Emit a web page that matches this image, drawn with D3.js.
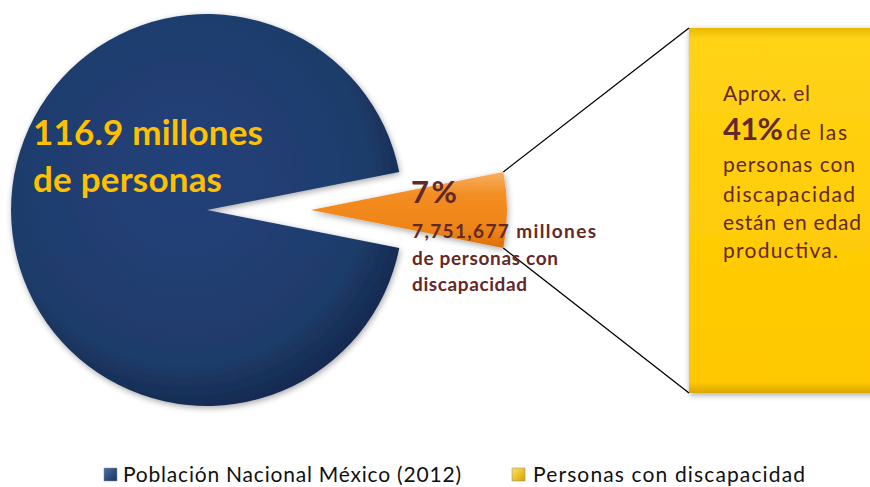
<!DOCTYPE html>
<html><head><meta charset="utf-8">
<script src="https://cdn.jsdelivr.net/npm/d3@7"></script>
<style>body{margin:0;background:#fff}svg{display:block}</style>
</head><body><svg id="c" width="870" height="487"></svg>
<script>
// ---- data ----
const categories = ["Población Nacional México (2012)", "Personas con discapacidad"];
const values = [116.9, 7.751677]; // millones de personas
const pieLabel = ["116.9 millones", "de personas"];
const slicePct = "7%";
const sliceLines = ["7,751,677 millones", "de personas con", "discapacidad"];
const boxIntro = "Aprox. el";
const boxPct = "41%";
const boxPctRest = "de las";
const boxLines = ["personas con", "discapacidad", "están en edad", "productiva."];

// ---- layout ----
const svg = d3.select("#c");
const cx = 207, cy = 210, R = 196, explode = 104;
const box = {x: 689, y: 28, w: 200, h: 365};
const maroon = "#632828";

const defs = svg.append("defs");
const rg = defs.append("radialGradient").attr("id","gBlue").attr("cx","45%").attr("cy","42%").attr("r","58%");
[[0,"#21407a"],[0.8,"#1f3d6b"],[1,"#152c52"]].forEach(s=>rg.append("stop").attr("offset",s[0]).attr("stop-color",s[1]));
const og = defs.append("linearGradient").attr("id","gOrange").attr("x1",0).attr("y1",0).attr("x2",0).attr("y2",1);
[[0,"#f7b062"],[0.3,"#f38d22"],[0.75,"#ef8416"],[1,"#d9700c"]].forEach(s=>og.append("stop").attr("offset",s[0]).attr("stop-color",s[1]));
const yg = defs.append("linearGradient").attr("id","gYellow").attr("x1",0).attr("y1",0).attr("x2",0).attr("y2",1);
[[0,"#e8b800"],[0.03,"#ffd319"],[0.5,"#ffcd08"],[0.97,"#ffc800"],[1,"#d9a800"]].forEach(s=>yg.append("stop").attr("offset",s[0]).attr("stop-color",s[1]));
const lb = defs.append("linearGradient").attr("id","lBlue").attr("x1",0).attr("y1",0).attr("x2",1).attr("y2",1);
[[0,"#4a6fa8"],[1,"#1a3260"]].forEach(s=>lb.append("stop").attr("offset",s[0]).attr("stop-color",s[1]));
const ly = defs.append("linearGradient").attr("id","lYellow").attr("x1",0).attr("y1",0).attr("x2",1).attr("y2",1);
[[0,"#ffe466"],[1,"#d9a000"]].forEach(s=>ly.append("stop").attr("offset",s[0]).attr("stop-color",s[1]));
const sh = defs.append("filter").attr("id","shadow").attr("x","-20%").attr("y","-20%").attr("width","140%").attr("height","140%");
sh.append("feGaussianBlur").attr("in","SourceAlpha").attr("stdDeviation",3);
sh.append("feOffset").attr("dx",1).attr("dy",2).attr("result","b");
sh.append("feComponentTransfer").append("feFuncA").attr("type","linear").attr("slope",0.35);
const mg = sh.append("feMerge"); mg.append("feMergeNode"); mg.append("feMergeNode").attr("in","SourceGraphic");

const color = d3.scaleOrdinal().domain(categories).range(["url(#gBlue)","url(#gOrange)"]);
const legendColor = d3.scaleOrdinal().domain(categories).range(["url(#lBlue)","url(#lYellow)"]);

const data = categories.map((c,i)=>({c, v: values[i]}));
const frac = values[1] / d3.sum(values);
const start = Math.PI/2 + frac*Math.PI;
const arcs = d3.pie().sort(null).value(d=>d.v).startAngle(start).endAngle(start + 2*Math.PI)(data);
const arc = d3.arc().innerRadius(0).outerRadius(R);

function offset(d){
  if (d.index === 0) return [0,0];
  const m = (d.startAngle + d.endAngle)/2;
  return [explode*Math.sin(m), -explode*Math.cos(m)];
}

// box
svg.append("rect").attr("x",box.x).attr("y",box.y).attr("width",box.w).attr("height",box.h)
  .attr("fill","url(#gYellow)").attr("filter","url(#shadow)");

// connector lines from orange slice corners to box corners
const o = arcs[1], off = offset(o);
const corner = a => [cx + off[0] + R*Math.sin(a), cy + off[1] - R*Math.cos(a)];
const c1 = corner(o.startAngle), c2 = corner(o.endAngle);
svg.append("line").attr("x1",c1[0]).attr("y1",c1[1]).attr("x2",box.x).attr("y2",box.y)
  .attr("stroke","#000").attr("stroke-width",1.3);
svg.append("line").attr("x1",c2[0]).attr("y1",c2[1]).attr("x2",box.x).attr("y2",box.y+box.h)
  .attr("stroke","#000").attr("stroke-width",1.3);

// slices
svg.append("g").attr("transform",`translate(${cx},${cy})`)
  .selectAll("path").data(arcs).join("path")
  .attr("transform", d=>`translate(${offset(d)})`)
  .attr("d", arc).attr("fill", d=>color(d.data.c)).attr("filter","url(#shadow)");

function txt(x,y,s,size,weight,fill,len){
  const t = svg.append("text").attr("x",x).attr("y",y).text(s)
    .attr("font-family","Lato, 'Open Sans', sans-serif").attr("font-size",size)
    .attr("font-weight",weight).attr("fill",fill);
  if (len) t.attr("textLength",len).attr("lengthAdjust","spacing");
  return t;
}

// pie label
txt(33,145,pieLabel[0],35,"bold","#ffc000",230);
txt(33,192,pieLabel[1],35,"bold","#ffc000",189);

// slice labels
txt(411,203,slicePct,31,"bold",maroon,46);
const sl = [[238,184],[265,146],[291,115]];
sliceLines.forEach((s,i)=>txt(412,sl[i][0],s,19,"bold",maroon,sl[i][1]));

// box text
txt(723,101,boxIntro,21,"normal",maroon,87);
txt(723,140,boxPct,31,"bold",maroon,60);
txt(786,140,boxPctRest,21,"normal",maroon,61);
const bl = [[172,132],[202,132],[230,138],[258,115]];
boxLines.forEach((s,i)=>txt(723,bl[i][0],s,21,"normal",maroon,bl[i][1]));

// legend
const lx = [104, 512], tx = [123, 533], tw = [338, 272];
categories.forEach((c,i)=>{
  svg.append("rect").attr("x",lx[i]).attr("y",468).attr("width",13).attr("height",13)
    .attr("fill",legendColor(c)).attr("stroke","#888").attr("stroke-width",0.5);
  txt(tx[i],482,c,21,"normal","#111",tw[i]);
});
</script></body></html>
